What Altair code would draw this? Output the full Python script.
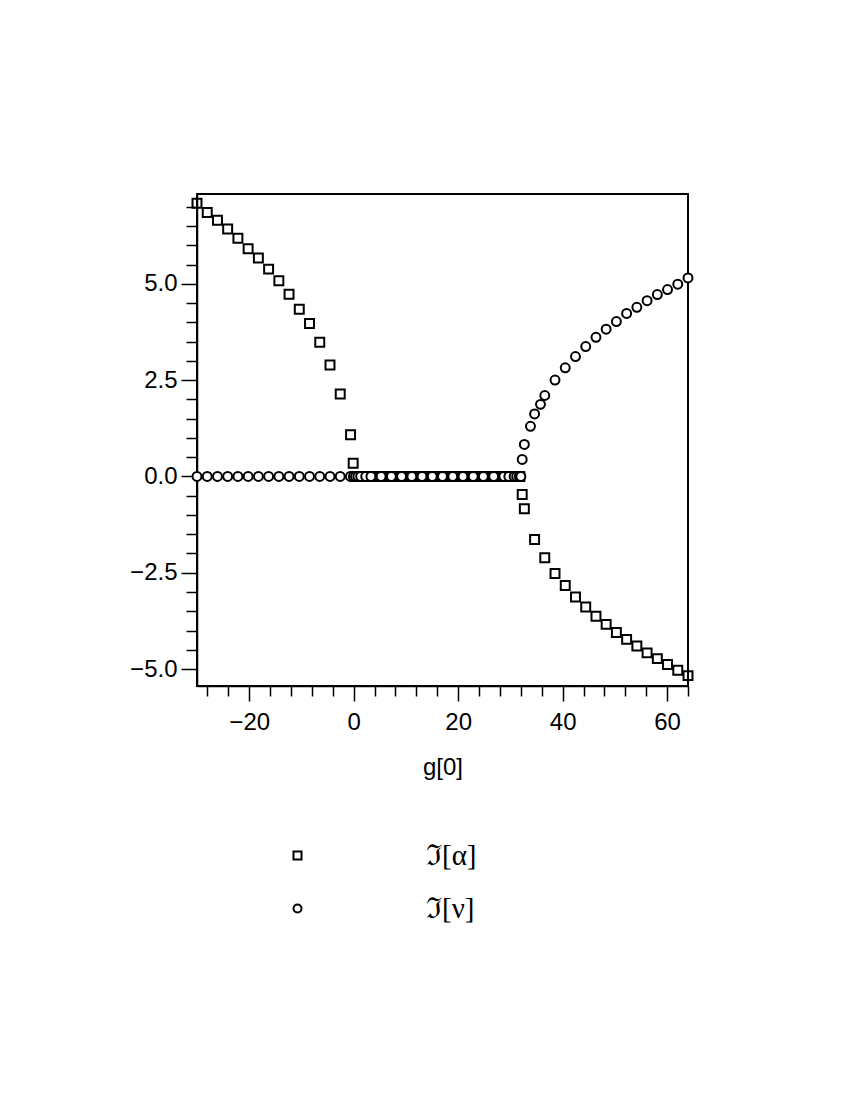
import altair as alt
import pandas as pd

SER_A = "ℑ[α]"
SER_N = "ℑ[ν]"

# Im[alpha] : left branch (positive), zero plateau, right branch (negative)
alpha_left_x = [-30.0, -28.04, -26.08, -24.13, -22.17, -20.21, -18.25, -16.29,
                -14.33, -12.38, -10.42, -8.46, -6.5, -4.54, -2.58, -0.6, -0.1]
alpha_left_y = [7.09, 6.85, 6.65, 6.42, 6.18, 5.91, 5.67, 5.38,
                5.08, 4.73, 4.34, 3.97, 3.48, 2.89, 2.14, 1.08, 0.34]

alpha_zero_x = [0.2, 0.6, 1.0, 1.4, 1.8, 2.2, 2.6, 3.0, 3.4, 3.8,
                4.2, 4.6, 5.0, 5.4, 5.8, 6.2, 6.6, 7.0, 7.4, 7.8,
                8.2, 8.6, 9.0, 9.4, 9.8, 10.2, 10.6, 11.0, 11.4, 11.8,
                12.2, 12.6, 13.0, 13.4, 13.8, 14.2, 14.6, 15.0, 15.4, 15.8,
                16.2, 16.6, 17.0, 17.4, 17.8, 18.2, 18.6, 19.0, 19.4, 19.8,
                20.2, 20.6, 21.0, 21.4, 21.8, 22.2, 22.6, 23.0, 23.4, 23.8,
                24.2, 24.6, 25.0, 25.4, 25.8, 26.2, 26.6, 27.0, 27.4, 27.8,
                28.2, 28.6, 29.0, 29.4, 29.8, 30.2, 30.6, 31.0, 31.4, 31.8]
alpha_zero_y = [0.0] * len(alpha_zero_x)

alpha_right_x = [32.26, 32.67, 34.63, 36.58, 38.54, 40.5, 42.46, 44.42, 46.38,
                 48.33, 50.29, 52.25, 54.21, 56.17, 58.13, 60.08, 62.04, 64.0]
alpha_right_y = [-0.47, -0.84, -1.64, -2.11, -2.52, -2.83, -3.13, -3.39, -3.63,
                 -3.84, -4.05, -4.23, -4.40, -4.58, -4.73, -4.88, -5.03, -5.17]

# Im[nu] : zero up to the branch point, then positive
nu_zero_x = [-30.0, -28.04, -26.08, -24.13, -22.17, -20.21, -18.25, -16.29,
             -14.33, -12.38, -10.42, -8.46, -6.5, -4.54, -2.58, -0.63,
             -0.06, 0.35, 0.8, 1.33, 2.3, 3.29, 5.25, 7.21, 9.17, 11.13,
             13.08, 15.04, 17.0, 18.96, 20.92, 22.88, 24.83, 26.79, 28.75,
             29.7, 30.71, 31.2, 31.7, 32.0]
nu_zero_y = [0.0] * len(nu_zero_x)

nu_right_x = [32.26, 32.67, 33.84, 34.63, 35.76, 36.58, 38.54, 40.5, 42.46, 44.42,
              46.38, 48.33, 50.29, 52.25, 54.21, 56.17, 58.13, 60.08, 62.04, 64.0]
nu_right_y = [0.44, 0.83, 1.30, 1.62, 1.87, 2.10, 2.50, 2.82, 3.11, 3.37,
              3.61, 3.82, 4.02, 4.23, 4.39, 4.56, 4.72, 4.85, 4.99, 5.15]

x_tick_values = [-28, -24, -20, -16, -12, -8, -4, 0, 4, 8, 12, 16, 20, 24, 28,
                 32, 36, 40, 44, 48, 52, 56, 60, 64]
y_tick_values = [-5.0, -4.5, -4.0, -3.5, -3.0, -2.5, -2.0, -1.5, -1.0, -0.5, 0.0,
                 0.5, 1.0, 1.5, 2.0, 2.5, 3.0, 3.5, 4.0, 4.5, 5.0, 5.5, 6.0, 6.5, 7.0]

rows = []
for xs, ys in [(alpha_left_x, alpha_left_y), (alpha_zero_x, alpha_zero_y),
               (alpha_right_x, alpha_right_y)]:
    for x, y in zip(xs, ys):
        rows.append({"g0": x, "val": y, "series": SER_A})
for xs, ys in [(nu_zero_x, nu_zero_y), (nu_right_x, nu_right_y)]:
    for x, y in zip(xs, ys):
        rows.append({"g0": x, "val": y, "series": SER_N})
df = pd.DataFrame(rows)
df["ord"] = range(len(df))

SANS = "Liberation Sans"

chart = alt.Chart(df).mark_point(
    size=80, stroke="black", strokeWidth=2, opacity=1
).encode(
    x=alt.X("g0:Q",
            scale=alt.Scale(domain=[-30, 64], nice=False, zero=False),
            axis=alt.Axis(
                values=x_tick_values,
                labelExpr="datum.value % 20 === 0 ? datum.label : ''",
                tickSize={"condition": {"test": "datum.value % 20 === 0", "value": 15}, "value": 10},
                tickColor="black", tickWidth=1.5,
                domainColor="black", domainWidth=1.5,
                labelFont=SANS, labelFontSize=24, labelColor="black",
                labelPadding=9, labelFlush=False, labelOverlap=False,
                titleFont=SANS, titleFontSize=24, titleColor="black",
                titleFontWeight="normal", titlePadding=21,
                grid=False),
            title="g[0]"),
    y=alt.Y("val:Q",
            scale=alt.Scale(domain=[-5.44, 7.33], nice=False, zero=False),
            axis=alt.Axis(
                values=y_tick_values,
                format=".1f",
                labelExpr="datum.value % 2.5 === 0 ? datum.label : ''",
                tickSize={"condition": {"test": "datum.value % 2.5 === 0", "value": 16}, "value": 11},
                tickColor="black", tickWidth=1.5,
                domainColor="black", domainWidth=1.5,
                labelFont=SANS, labelFontSize=24, labelColor="black",
                labelPadding=4, labelFlush=False, labelOverlap=False,
                grid=False),
            title=None),
    shape=alt.Shape("series:N",
                    scale=alt.Scale(domain=[SER_A, SER_N], range=["square", "circle"]),
                    legend=alt.Legend(
                        orient="none", legendX=86, legendY=647, title=None,
                        padding=0,
                        labelFont="Liberation Serif", labelFontSize=29, labelColor="black",
                        labelOffset=114, rowPadding=23,
                        symbolSize=64, symbolStrokeWidth=2,
                        symbolStrokeColor="black", symbolFillColor="white",
                        symbolType="square")),
    fill=alt.Fill("series:N",
                  scale=alt.Scale(domain=[SER_A, SER_N], range=["transparent", "white"]),
                  legend=None),
    order=alt.Order("ord:Q"),
).properties(
    width=491, height=492,
    background="white",
    autosize=alt.AutoSizeParams(type="none"),
    padding={"left": 189, "top": 186, "right": 140, "bottom": 380},
).configure_view(
    stroke="black", strokeWidth=2
)

chart.save("out.html", embed_options={"renderer": "svg", "actions": False})
